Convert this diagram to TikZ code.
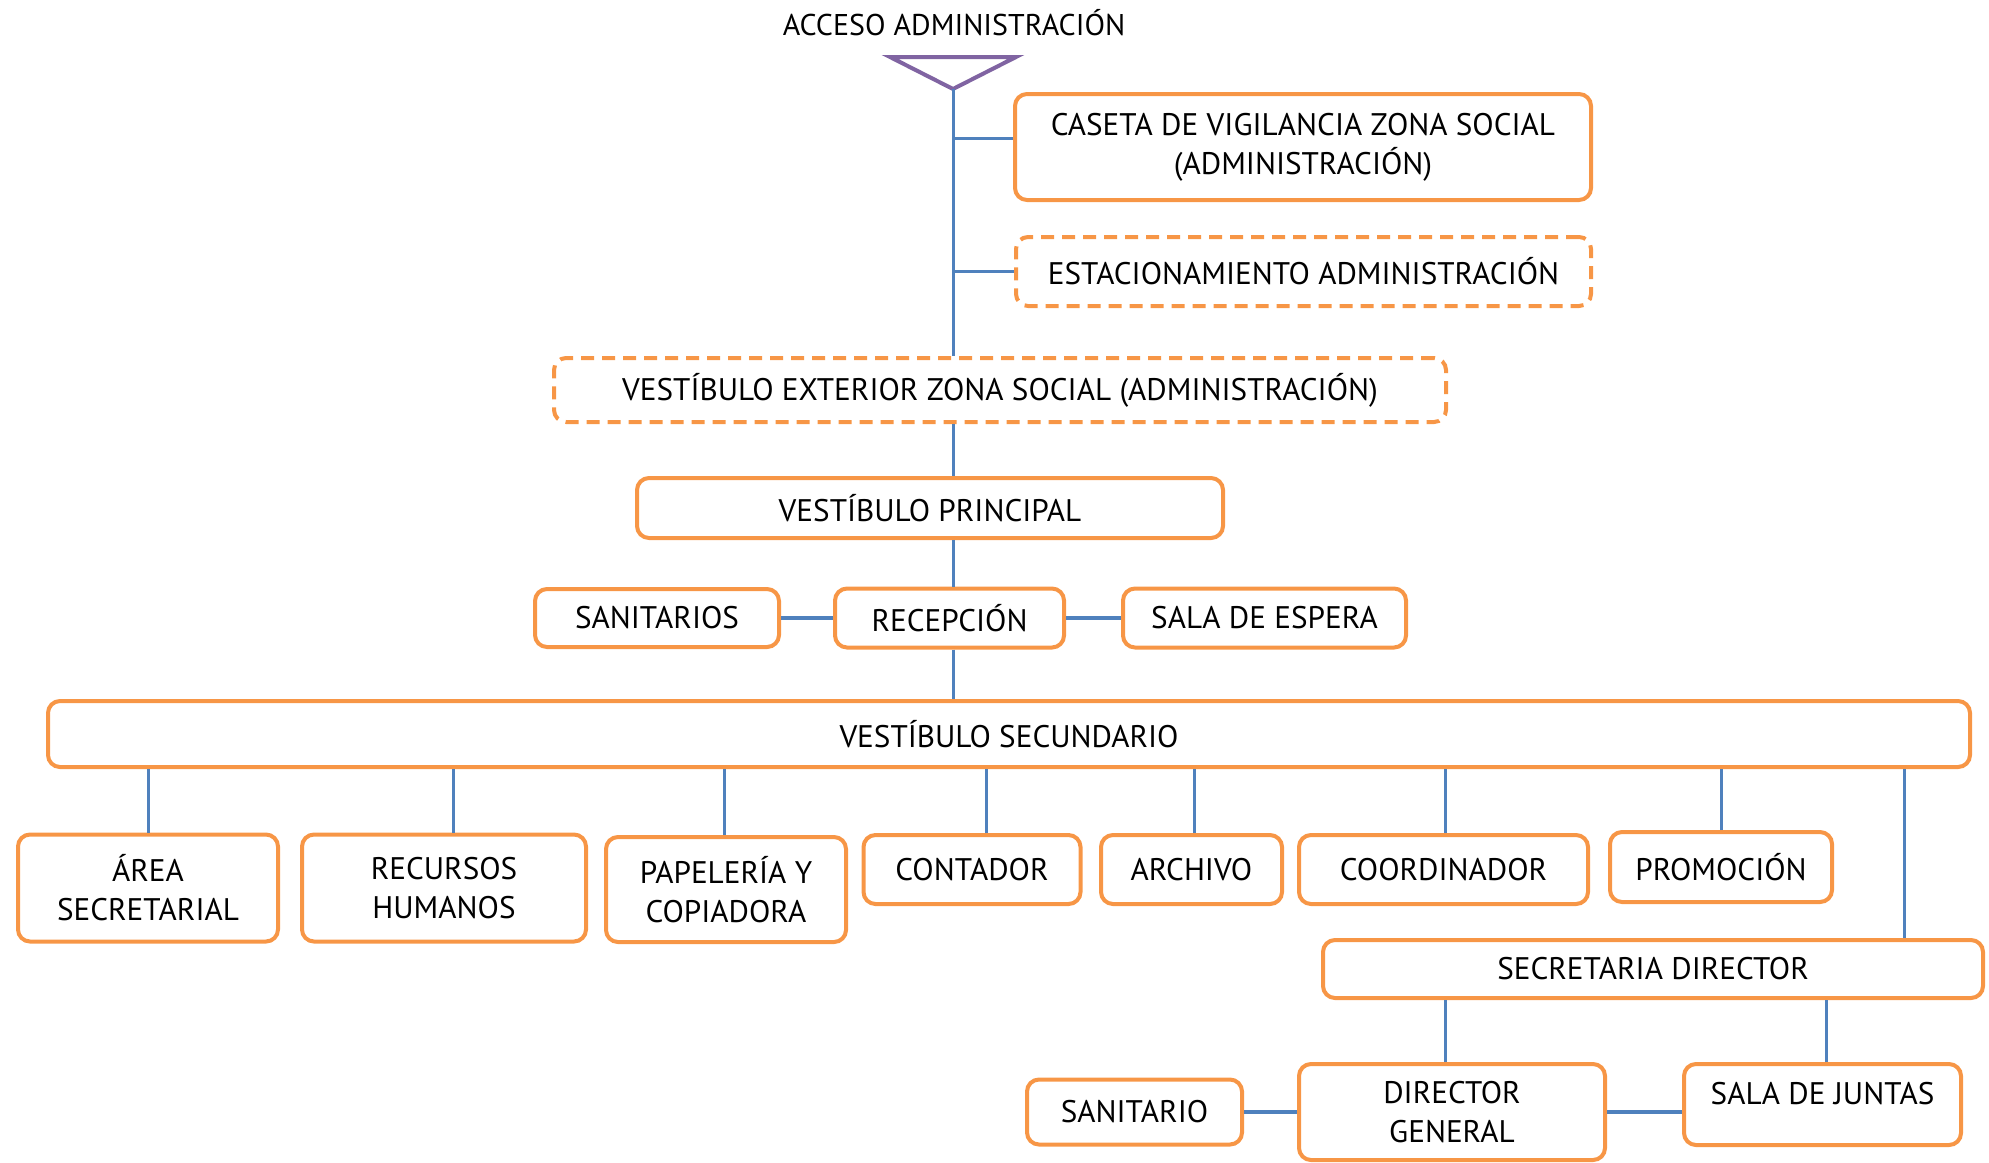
\documentclass[tikz,border=0pt]{standalone}
\usepackage{fontspec}
\setmainfont{PT Sans}
\usetikzlibrary{positioning}
\definecolor{boxorange}{HTML}{F79646}
\definecolor{linkblue}{HTML}{4F81BD}
\definecolor{accpurple}{HTML}{8064A2}

\begin{document}
\begin{tikzpicture}[x=0.5pt, y=-0.5pt,
  box/.style={draw=boxorange, line width=2pt, rounded corners=6pt, align=center, inner sep=0pt, font=\fontsize{15.6}{19.5}\selectfont},
  dbox/.style={box, dashed, dash pattern=on 6.5pt off 4pt},
  link/.style={draw=linkblue, line width=1.5pt},
  hlink/.style={link, line width=2.4pt},
  tri/.style={draw=accpurple, line width=2pt}]
\useasboundingbox (0,0) rectangle (1989,1162);
\node[font=\fontsize{15}{19.5}\selectfont] (acc) at (954,23) {ACCESO ADMINISTRACIÓN};
\coordinate (apex) at (953,89);
\draw[tri] (890,57) -- (1016,57) -- (apex) -- cycle;
\node[box, minimum width=288pt, minimum height=53pt] (cas) at (1303,147) {CASETA DE VIGILANCIA ZONA SOCIAL\\(ADMINISTRACIÓN)};
\node[dbox, minimum width=287.5pt, minimum height=34.5pt] (est) at (1303.5,271.5) {ESTACIONAMIENTO ADMINISTRACIÓN};
\node[dbox, minimum width=446pt, minimum height=32pt] (ext) at (1000,390) {VESTÍBULO EXTERIOR ZONA SOCIAL (ADMINISTRACIÓN)};
\node[box, minimum width=293pt, minimum height=30pt] (vp) at (930,508) {VESTÍBULO PRINCIPAL};
\node[box, minimum width=114.5pt, minimum height=29.5pt] (rec) at (949.5,618) {RECEPCIÓN};
\node[box, minimum width=122pt, minimum height=29pt, left=26pt of rec] (san1) {SANITARIOS};
\node[box, minimum width=141.5pt, minimum height=29.5pt, right=27.5pt of rec] (esp) {SALA DE ESPERA};
\node[box, minimum width=961pt, minimum height=33pt] (sec) at (1009,734) {VESTÍBULO SECUNDARIO};
\node[box, minimum width=130pt, minimum height=53.5pt] (area) at (148,888) {ÁREA\\SECRETARIAL};
\node[box, minimum width=142pt, minimum height=53.5pt] (rh) at (444,888) {RECURSOS\\HUMANOS};
\node[box, minimum width=120pt, minimum height=52.5pt] (pap) at (726,889.5) {PAPELERÍA Y\\COPIADORA};
\node[box, minimum width=108.5pt, minimum height=34.5pt] (cont) at (972,869.5) {CONTADOR};
\node[box, minimum width=90.5pt, minimum height=34.5pt] (arch) at (1191.5,869.5) {ARCHIVO};
\node[box, minimum width=144.5pt, minimum height=34.5pt] (coord) at (1443.5,869.5) {COORDINADOR};
\node[box, minimum width=111pt, minimum height=35pt] (prom) at (1721,867) {PROMOCIÓN};
\node[box, minimum width=330pt, minimum height=29pt] (secd) at (1653,969) {SECRETARIA DIRECTOR};
\node[box, minimum width=153pt, minimum height=48pt] (dir) at (1452,1112) {DIRECTOR\\GENERAL};
\node[box, minimum width=107.5pt, minimum height=32.5pt, left=26.5pt of dir] (san2) {SANITARIO};
\node[box, minimum width=138.5pt, minimum height=40.5pt, text depth=11pt, right=37.5pt of dir, yshift=3.75pt] (sj) {SALA DE JUNTAS};
\draw[link] (apex) -- (apex |- ext.north);
\coordinate (casin) at ([yshift=4.5pt]cas.west);
\draw[link] (casin) -- (casin -| apex);
\draw[link] (est.west) -- (est.west -| apex);
\draw[link] (apex |- ext.south) -- (apex |- vp.north);
\draw[link] (apex |- vp.south) -- (apex |- rec.north);
\draw[link] (apex |- rec.south) -- (apex |- sec.north);
\draw[hlink] (san1.east) -- (rec.west);
\draw[hlink] (rec.east) -- (esp.west);
\foreach \n/\s in {area/0pt, rh/4.5pt, pap/-1pt, cont/7pt, arch/1.5pt, coord/1pt, prom/0pt} {
  \coordinate (top) at ([xshift=\s]\n.north);
  \draw[link] (top) -- (top |- sec.south);
}
\coordinate (sdtop) at ([xshift=125.5pt]secd.north);
\draw[link] (sdtop) -- (sdtop |- sec.south);
\coordinate (dtop) at ([xshift=-3.5pt]dir.north);
\draw[link] (dtop) -- (dtop |- secd.south);
\coordinate (jtop) at ([xshift=2pt]sj.north);
\draw[link] (jtop) -- (jtop |- secd.south);
\draw[hlink] (san2.east) -- (dir.west);
\draw[hlink] (dir.east) -- (dir.east -| sj.west);
\end{tikzpicture}
\end{document}
